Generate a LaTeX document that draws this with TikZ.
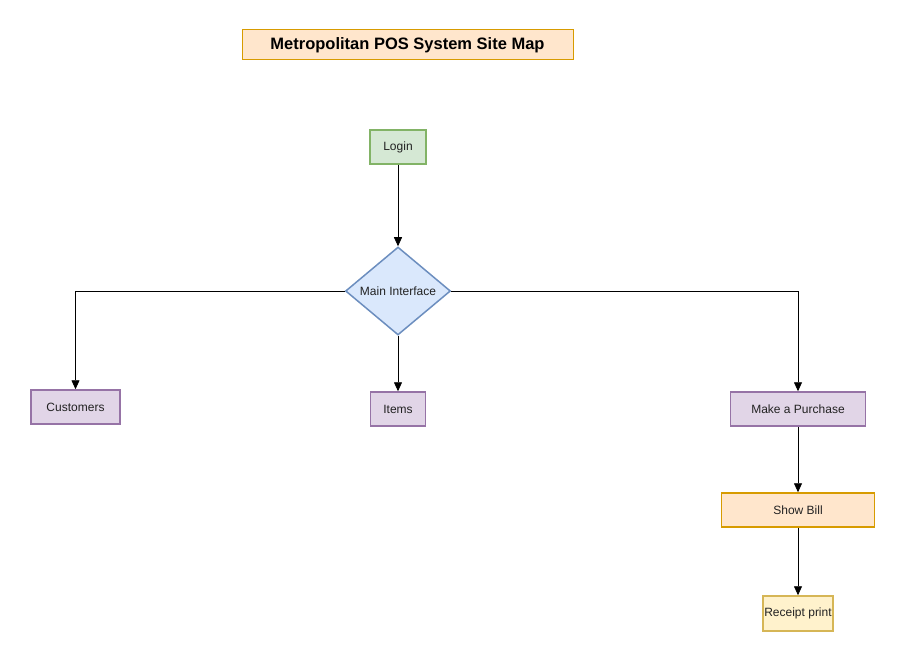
\documentclass[tikz,border=0pt]{standalone}
\usepackage{fontspec}
\setmainfont{Liberation Sans}
\usetikzlibrary{arrows.meta,shapes.geometric}
\definecolor{orfill}{HTML}{FFE6CC}
\definecolor{ordraw}{HTML}{D79B00}
\definecolor{grfill}{HTML}{D5E8D4}
\definecolor{grdraw}{HTML}{82B366}
\definecolor{blfill}{HTML}{DAE8FC}
\definecolor{bldraw}{HTML}{6C8EBF}
\definecolor{pufill}{HTML}{E1D5E7}
\definecolor{pudraw}{HTML}{9673A6}
\definecolor{yefill}{HTML}{FFF2CC}
\definecolor{yedraw}{HTML}{D6B656}
\definecolor{txt}{HTML}{222222}
\begin{document}
\begin{tikzpicture}[x=1pt,y=-1pt,
  box/.style={rectangle,line width=1.5pt,inner sep=0pt,font=\fontsize{12}{14}\selectfont,text=txt},
  conn/.style={line width=0.8pt,-{Triangle[length=9pt,width=8pt]}}]
\useasboundingbox[fill=white] (0,0) rectangle (905,663);
\node[box,draw=ordraw,fill=orfill,line width=1pt,minimum width=331pt,minimum height=30pt,font=\fontsize{16.5}{18}\selectfont\bfseries,text=black] (title) at (407.5,45) {Metropolitan POS System Site Map};
\node[box,draw=grdraw,fill=grfill,minimum width=56pt,minimum height=34pt] (login) at (398,147) {Login};
\node[diamond,draw=bldraw,fill=blfill,line width=1.5pt,inner sep=0pt,minimum width=105pt,minimum height=88pt,aspect=1.19,font=\fontsize{12}{14}\selectfont,text=txt] (main) at (398,291) {Main Interface};
\node[box,draw=pudraw,fill=pufill,minimum width=89pt,minimum height=34pt] (cust) at (75.5,407) {Customers};
\node[box,draw=pudraw,fill=pufill,minimum width=55pt,minimum height=34pt] (items) at (398,409) {Items};
\node[box,draw=pudraw,fill=pufill,minimum width=135pt,minimum height=34pt] (buy) at (798,409) {Make a Purchase};
\node[box,draw=ordraw,fill=orfill,minimum width=153pt,minimum height=34pt] (bill) at (798,510) {Show Bill};
\node[box,draw=yedraw,fill=yefill,minimum width=70pt,minimum height=35pt] (rcpt) at (798,613.5) {Receipt print};
\draw[conn] (login.south) -- (main.north);
\draw[conn] (main.west) -- (cust.north |- main.west) -- (cust.north);
\draw[conn] (main.south) -- (items.north);
\draw[conn] (main.east) -- (buy.north |- main.east) -- (buy.north);
\draw[conn] (buy.south) -- (bill.north);
\draw[conn] (bill.south) -- (rcpt.north);
\end{tikzpicture}
\end{document}
